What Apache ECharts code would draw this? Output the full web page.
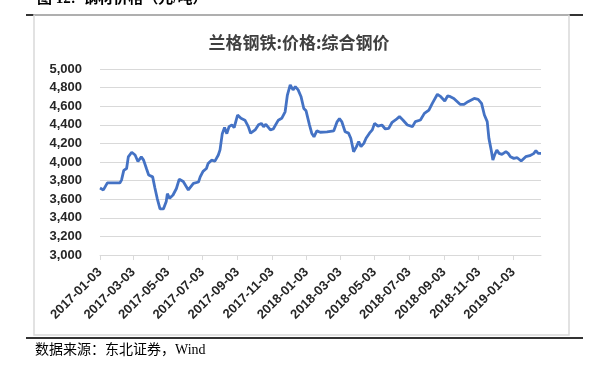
<!DOCTYPE html>
<html>
<head>
<meta charset="utf-8">
<script src="https://cdn.jsdelivr.net/npm/echarts@6/dist/echarts.min.js"></script>
<style>
html,body{margin:0;padding:0;background:#fff;}
#c{width:598px;height:367px;}
</style>
</head>
<body>
<div id="c"></div>
<script>
// Observed dates and prices (元/吨)
const dates = [
'2017-01-03','2017-01-09','2017-01-16','2017-02-07','2017-02-10','2017-02-14','2017-02-19','2017-02-22','2017-02-28',
'2017-03-06','2017-03-11','2017-03-17','2017-03-21','2017-03-26','2017-03-30','2017-04-06','2017-04-10','2017-04-14',
'2017-04-19','2017-04-25','2017-04-30','2017-05-02','2017-05-06','2017-05-12','2017-05-18','2017-05-23','2017-05-30',
'2017-06-08','2017-06-17','2017-06-26','2017-06-29','2017-07-04','2017-07-10','2017-07-13','2017-07-19','2017-07-25',
'2017-07-31','2017-08-03','2017-08-07','2017-08-11','2017-08-15','2017-08-19','2017-08-24','2017-08-28','2017-09-03',
'2017-09-09','2017-09-16','2017-09-22','2017-09-26','2017-10-04','2017-10-10','2017-10-15','2017-10-19','2017-10-23',
'2017-10-31','2017-11-05','2017-11-14','2017-11-20','2017-11-26','2017-11-30','2017-12-05','2017-12-10','2017-12-14',
'2017-12-19','2017-12-24','2017-12-29','2018-01-02','2018-01-08','2018-01-12','2018-01-16','2018-01-21','2018-01-27',
'2018-02-08','2018-02-20','2018-02-26','2018-03-02','2018-03-06','2018-03-12','2018-03-18','2018-03-22','2018-03-27',
'2018-04-01','2018-04-05','2018-04-09','2018-04-14','2018-04-18','2018-04-24','2018-04-29','2018-05-03','2018-05-09',
'2018-05-16','2018-05-22','2018-05-28','2018-06-03','2018-06-09','2018-06-16','2018-06-22','2018-06-30','2018-07-09',
'2018-07-14','2018-07-23','2018-07-30','2018-08-07','2018-08-13','2018-08-22','2018-08-28','2018-09-04','2018-09-09',
'2018-09-14','2018-09-20','2018-10-01','2018-10-08','2018-10-15','2018-10-26','2018-11-02','2018-11-08','2018-11-13',
'2018-11-18','2018-11-21','2018-11-25','2018-11-28','2018-12-01','2018-12-05','2018-12-09','2018-12-14','2018-12-21',
'2018-12-25','2018-12-29','2019-01-04','2019-01-10','2019-01-17','2019-01-25','2019-02-01','2019-02-08','2019-02-12',
'2019-02-16','2019-02-21'
];
const prices = [
3720,3700,3775,3775,3805,3910,3930,4055,4105,
4075,4005,4055,4020,3930,3860,3840,3720,3610,
3495,3495,3575,3660,3610,3645,3715,3815,3790,
3700,3770,3785,3840,3900,3930,3985,4020,4010,
4075,4130,4305,4370,4305,4380,4400,4370,4505,
4470,4450,4380,4310,4345,4400,4415,4380,4405,
4345,4355,4450,4470,4540,4720,4830,4775,4810,
4775,4705,4575,4550,4400,4310,4270,4335,4320,
4325,4335,4435,4465,4435,4325,4310,4255,4110,
4165,4220,4165,4200,4255,4310,4345,4415,4385,
4398,4355,4362,4427,4452,4488,4452,4398,4380,
4434,4452,4523,4559,4631,4728,4702,4656,4710,
4702,4684,4620,4620,4649,4684,4674,4631,4505,
4434,4254,4129,4021,4075,4129,4093,4082,4111,
4093,4057,4039,4046,4011,4057,4068,4090,4122,
4093,4093
];
const tickLabels = ['2017-01-03','2017-03-03','2017-05-03','2017-07-03','2017-09-03','2017-11-03',
'2018-01-03','2018-03-03','2018-05-03','2018-07-03','2018-09-03','2018-11-03','2019-01-03'];
const yTicks = [3000,3200,3400,3600,3800,4000,4200,4400,4600,4800,5000];

// daily category axis spanning the observed range
const categories = [];
{
  const start = new Date(dates[0] + 'T00:00:00Z');
  const end = new Date(dates[dates.length - 1] + 'T00:00:00Z');
  for (let d = new Date(start); d <= end; d.setUTCDate(d.getUTCDate() + 1)) {
    categories.push(d.toISOString().slice(0, 10));
  }
}
const tickSet = new Set(tickLabels);
const seriesData = dates.map((d, i) => [d, prices[i]]);

const chart = echarts.init(document.getElementById('c'), null, {renderer: 'canvas'});
const font = '"Liberation Sans", Arial, sans-serif';
chart.setOption({
  animation: false,
  backgroundColor: '#fff',
  title: {
    text: '兰格钢铁:价格:综合钢价',
    left: 'center',
    top: 29,
    textStyle: {fontFamily: '"Noto Sans CJK SC", sans-serif', fontSize: 17, fontWeight: 'bold', color: '#404040'}
  },
  grid: {left: 100, right: 57, top: 69, bottom: 112, containLabel: false},
  xAxis: {
    type: 'category',
    data: categories,
    boundaryGap: false,
    axisLine: {show: true, lineStyle: {color: '#d9d9d9', width: 1}},
    axisTick: {show: true, interval: (i, v) => tickSet.has(v), length: 5, lineStyle: {color: '#d9d9d9'}},
    axisLabel: {
      interval: (i, v) => tickSet.has(v),
      rotate: 45,
      margin: 15,
      fontFamily: font,
      fontSize: 13,
      fontWeight: 'bold',
      color: '#262626'
    },
    splitLine: {show: false}
  },
  yAxis: {
    type: 'value',
    min: yTicks[0],
    max: yTicks[yTicks.length - 1],
    interval: 200,
    axisLine: {show: false},
    axisTick: {show: false},
    axisLabel: {
      margin: 18,
      fontFamily: font,
      fontSize: 13,
      fontWeight: 'bold',
      color: '#262626',
      formatter: v => v.toLocaleString('en-US')
    },
    splitLine: {lineStyle: {color: '#d9d9d9', width: 1}}
  },
  series: [{
    type: 'line',
    data: seriesData,
    showSymbol: false,
    symbol: 'none',
    lineStyle: {color: '#4472C4', width: 2.8},
    z: 3
  }],
  graphic: [
    {type: 'text', left: 37, top: -8, style: {text: '图 12:  钢材价格（元/吨）', font: 'bold 15px "Liberation Serif", "Noto Sans CJK SC", serif', fill: '#000'}},
    {type: 'line', shape: {x1: 26, y1: 15, x2: 583, y2: 15}, style: {stroke: '#333', lineWidth: 2}},
    {type: 'rect', shape: {x: 34, y: 15, width: 535, height: 320}, style: {fill: 'none', stroke: '#d9d9d9', lineWidth: 1.5}},
    {type: 'line', shape: {x1: 26, y1: 338, x2: 583, y2: 338}, style: {stroke: '#333', lineWidth: 2}},
    {type: 'text', left: 35, top: 343, style: {text: '数据来源：东北证券，Wind', font: '14px "Liberation Serif", "Noto Sans CJK SC", serif', fill: '#000'}}
  ]
});
</script>
</body>
</html>
